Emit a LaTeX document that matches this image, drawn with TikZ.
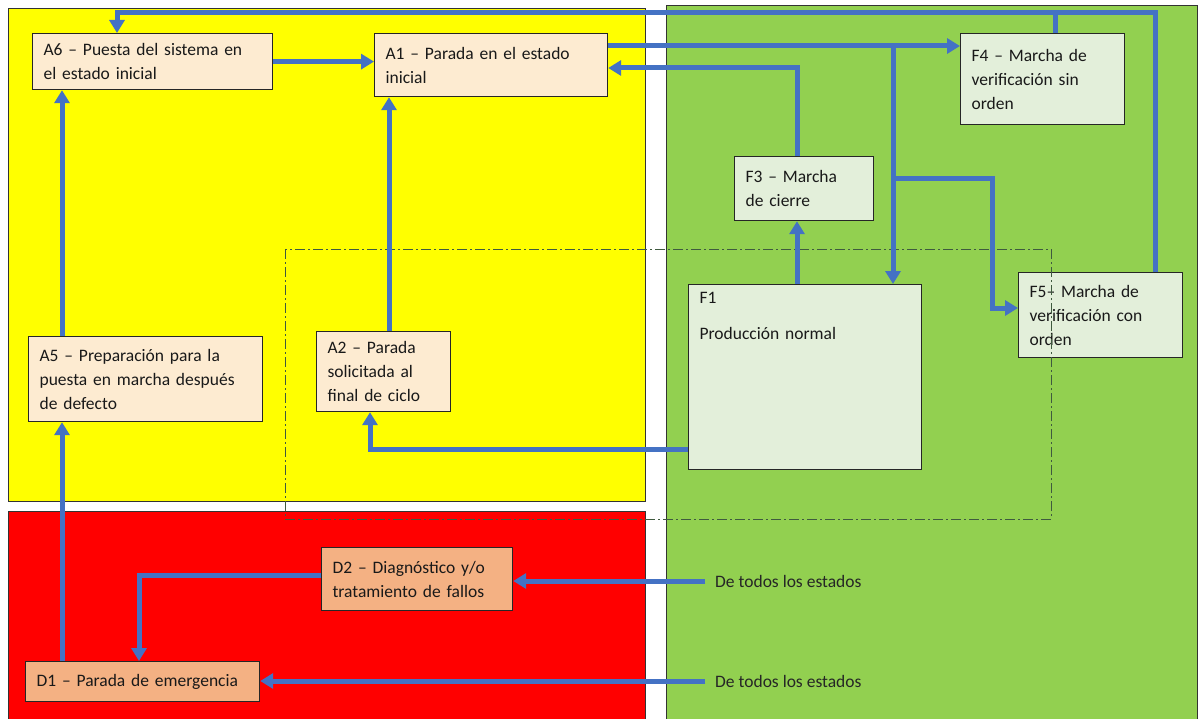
\documentclass[tikz,border=0pt]{standalone}
\usepackage{fontspec}
\setmainfont{Carlito}
\usetikzlibrary{arrows.meta}

\definecolor{zoneA}{HTML}{FFFF00}
\definecolor{zoneD}{HTML}{FF0000}
\definecolor{zoneF}{HTML}{92D050}
\definecolor{boxA}{HTML}{FDEBD1}
\definecolor{boxF}{HTML}{E3EFDA}
\definecolor{boxD}{HTML}{F4B183}
\definecolor{flowblue}{HTML}{4472C4}
\definecolor{dashgrey}{HTML}{3F5A3F}

\tikzset{
	zone/.style={draw=black!80, line width=0.9pt},
	state/.style={draw=black!85, line width=1.2pt, anchor=north west, align=left,
		inner xsep=11pt, inner ysep=4pt, text=black!90,
		font=\fontsize{17.5}{24}\selectfont},
	alltext/.style={anchor=west, inner xsep=10pt, text=black!85,
		font=\fontsize{17.5}{24}\selectfont},
	flow/.style={draw=flowblue, line width=5pt, -{Triangle[width=15pt,length=13pt]}},
	link/.style={draw=flowblue, line width=5pt},
}

\begin{document}
\begin{tikzpicture}[x=1pt, y=-1pt]
		\useasboundingbox (0,0) rectangle (1201,719);
		\fill[white] (0,0) rectangle (1201,719);

		% zonas A, D y F
		\draw[zone, fill=zoneA] (8,8) rectangle (645,501);
		\draw[zone, fill=zoneD] (8,511) rectangle (645,730);
		\draw[zone, fill=zoneF] (666,5) rectangle (1197,730);

		% estados
		\node[state, fill=boxA, text width=218pt, minimum height=56pt] (A6) at (32,33) {A6 – Puesta del sistema en\\el estado inicial};
		\node[state, fill=boxA, text width=211pt, minimum height=63pt] (A1) at (374,33) {A1 – Parada en el estado\\inicial};
		\node[state, fill=boxF, text width=142pt, minimum height=91pt] (F4) at (960,33) {F4 – Marcha de\\verificación sin\\orden};
		\node[state, fill=boxF, text width=117pt, minimum height=64pt] (F3) at (734,156) {F3 – Marcha\\de cierre};
		\node[state, fill=boxF, text width=211pt, inner ysep=8pt, text depth=158pt] (F1) at (688,284) {F1\\[12pt]Producción normal};
		\node[state, fill=boxF, text width=142pt, minimum height=85pt] (F5) at (1018,272) {F5– Marcha de\\verificación con\\orden};
		\node[state, fill=boxA, text width=212pt, minimum height=85pt] (A5) at (28,336) {A5 – Preparación para la\\puesta en marcha después\\de defecto};
		\node[state, fill=boxA, text width=112pt, minimum height=80pt] (A2) at (316,331) {A2 – Parada\\solicitada al\\final de ciclo};
		\node[state, fill=boxD, text width=169pt, minimum height=63pt] (D2) at (321,547) {D2 – Diagnóstico y/o\\tratamiento de fallos};
		\node[state, fill=boxD, text width=212pt, minimum height=40pt] (D1) at (25,661) {D1 – Parada de emergencia};

		\node[alltext] (all2) at (705,581) {De todos los estados};
		\node[alltext] (all1) at (705,681) {De todos los estados};

		% recuadro de produccion
		\draw[dashgrey, line width=0.8pt, dash pattern=on 10pt off 3pt on 2pt off 3pt] (285,249) rectangle (1051,519);

		% puntos de paso
		\coordinate (retR) at (1155,13);
		\coordinate (retL) at (117,13);
		\coordinate (f4up) at (1055,13);
		\coordinate (fwd) at (893,46);
		\coordinate (fork) at (893,179);
		\coordinate (f5in) at (992,308);
		\coordinate (back) at (797,68);
		\coordinate (a2up) at (389,0);
		\coordinate (f1out) at (370,449);
		\coordinate (leftup) at (62,0);
		\coordinate (d2out) at (139,575);

		% transiciones
		\draw[flow] (F5.north -| retR) -- (retR) -- (retL) -- (A6.north -| retL);
		\draw[link] (F4.north -| f4up) -- (f4up);
		\draw[flow] (A6.east) -- (A1.west |- A6.east);
		\draw[flow] (A1.east |- fwd) -- (F4.west |- fwd);
		\draw[flow] (fwd) -- (F1.north -| fwd);
		\draw[flow] (fork) -| (f5in) -- (F5.west |- f5in);
		\draw[flow] (F3.north -| back) -- (back) -- (A1.east |- back);
		\draw[flow] (F1.north -| back) -- (F3.south -| back);
		\draw[flow] (A2.north -| a2up) -- (A1.south -| a2up);
		\draw[flow] (F1.west |- f1out) -- (f1out) -- (A2.south -| f1out);
		\draw[flow] (A5.north -| leftup) -- (A6.south -| leftup);
		\draw[flow] (D1.north -| leftup) -- (A5.south -| leftup);
		\draw[flow] (D2.west |- d2out) -- (d2out) -- (D1.north -| d2out);
		\draw[flow] (all2.west) -- (D2.east |- all2.west);
		\draw[flow] (all1.west) -- (D1.east |- all1.west);
	\end{tikzpicture}
\end{document}
